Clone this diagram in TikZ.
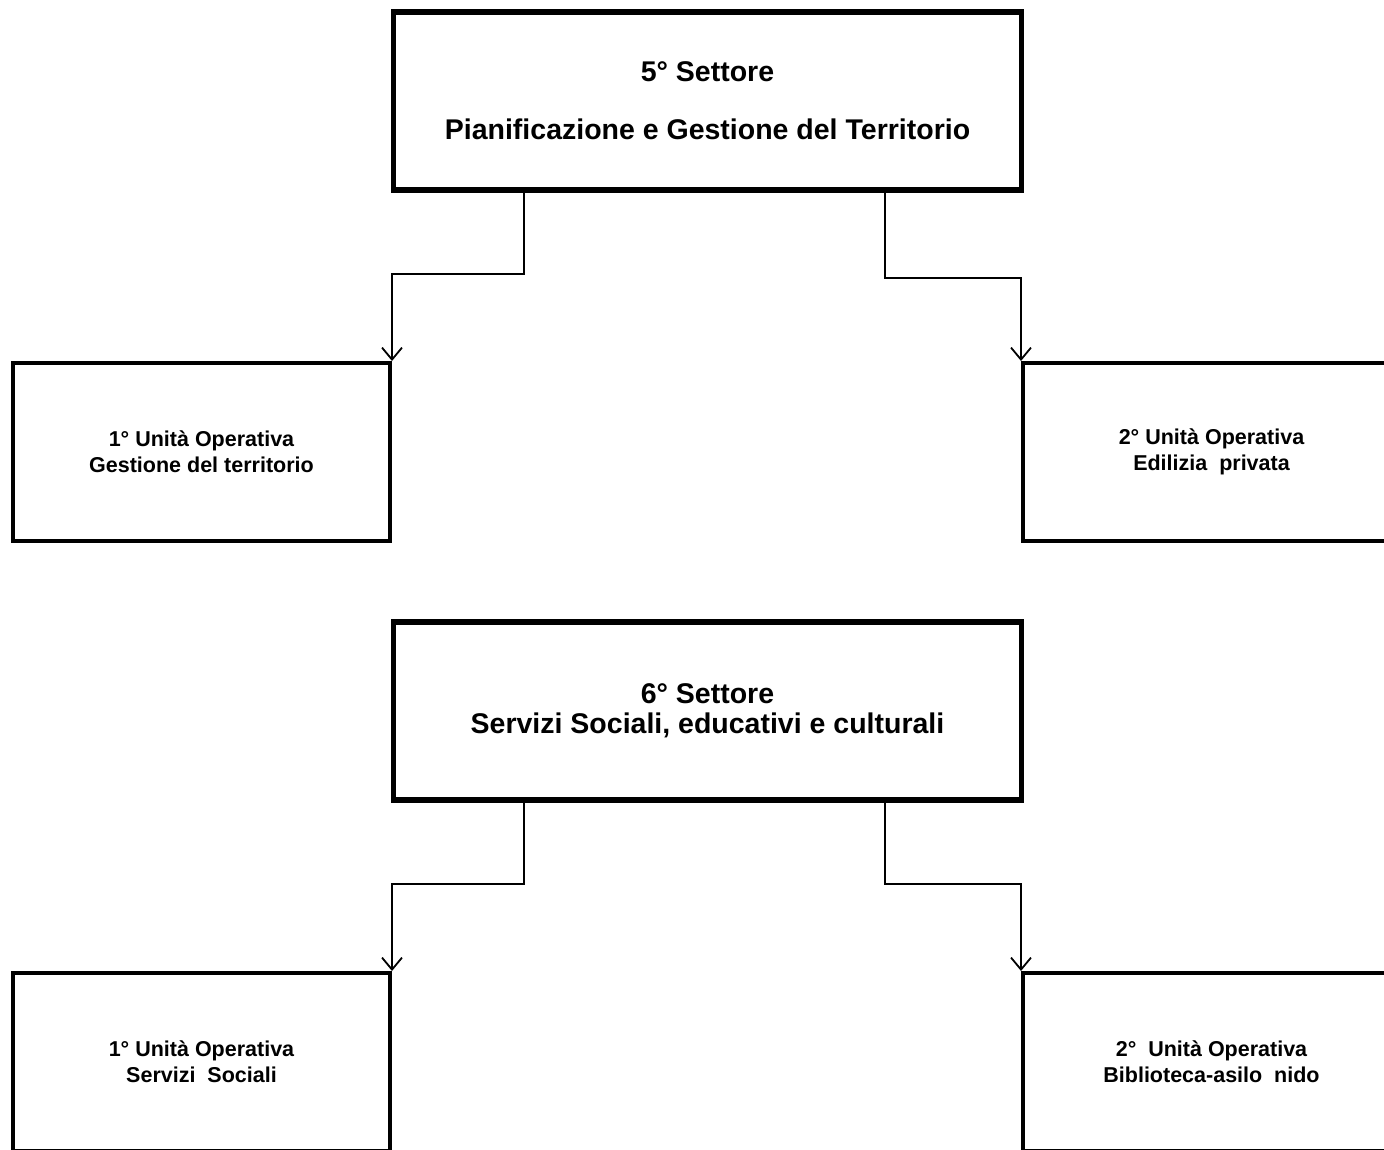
\documentclass[tikz,border=0pt]{standalone}
\usepackage{fontspec}
\setmainfont{Liberation Sans}
\usetikzlibrary{arrows.meta}
\begin{document}
\begin{tikzpicture}[x=1pt, y=-1pt,
        settore/.style={draw, line width=5.5pt, minimum width=628pt, minimum height=178pt,
            align=center, font=\fontsize{28.5}{30}\selectfont\bfseries},
        unita/.style={draw, line width=4pt, minimum width=377pt, minimum height=178pt,
            align=center, font=\fontsize{21.5}{26}\selectfont\bfseries},
        link/.style={line width=2pt, -{Straight Barb[length=12pt, width=20pt, line width=1.8pt]}}]
        \def \rowoffset {610}   % Offset between the two Settori
        \def \leftx {201.5}     % centre of left Unita
        \def \rightx {1211.5}   % centre of right Unita
        % page frame
        \useasboundingbox (0,0) rectangle (1384,1149);
        \clip (0,0) rectangle (1384,1149);
        % 5 settore
        \node[settore] (s5) at (707.5,101) {5° Settore\\[28pt]Pianificazione e Gestione del Territorio};
        \node[unita] (s5u1) at (\leftx,452) {1° Unità Operativa\\Gestione del territorio};
        \node[unita] (s5u2) at (\rightx,452) {2° Unità Operativa\\Edilizia\ \ privata};
        % 6 settore
        \node[settore] (s6) at (707.5,101+\rowoffset) {6° Settore\\Servizi Sociali, educativi e culturali};
        \node[unita] (s6u1) at (\leftx,452+\rowoffset) {1° Unità Operativa\\Servizi\ \ Sociali};
        \node[unita] (s6u2) at (\rightx,452+\rowoffset) {2°\ \ Unità Operativa\\Biblioteca-asilo\ \ nido};
        % links
        \draw[link] ([xshift=133pt]s5.south west) -- ++(0,81) -| (s5u1.north east);
        \draw[link] ([xshift=-139pt]s5.south east) -- ++(0,85) -| (s5u2.north west);
        \draw[link] ([xshift=133pt]s6.south west) -- ++(0,81) -| (s6u1.north east);
        \draw[link] ([xshift=-139pt]s6.south east) -- ++(0,81) -| (s6u2.north west);
    \end{tikzpicture}
\end{document}
